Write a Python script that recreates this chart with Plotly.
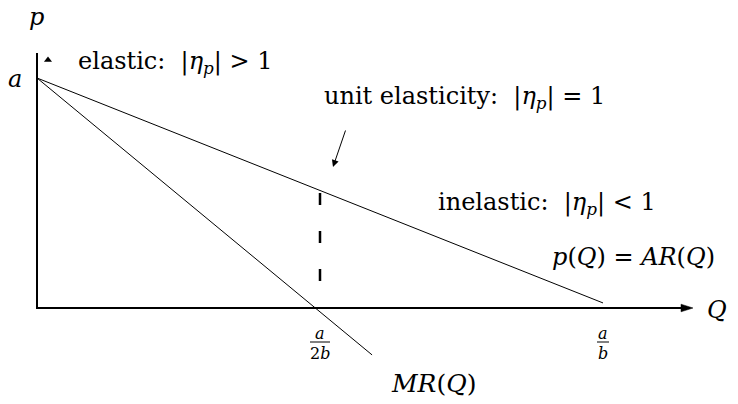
import plotly.graph_objects as go

# ---- data (a = 1, a/b = 1) ----
Q_AR = [0.0, 1.0]
p_AR = [1.0, 0.022]
Q_MR = [0.0, 0.592]
p_MR = [1.0, -0.204]
Q_unit = 0.5
p_dash = [0.5, 0.11]
x_ticks = [0.5, 1.0]
x_tick_num = ["<i>a</i>", "<i>a</i>"]
x_tick_den = ["2<i>b</i>", "<i>b</i>"]
x_tick_bar = [20, 12]

W, H = 738, 404
X0PX, Y0PX, SX, SY = 37, 308, 566, 230
xr = [(0 - X0PX) / SX, (W - X0PX) / SX]
yr = [(Y0PX - H) / SY, Y0PX / SY]


def px(x, y):
    return x / W, 1 - y / H


FONT = "DejaVu Serif"
NB = "\u00a0"
fig = go.Figure()

fig.add_trace(go.Scatter(x=Q_AR, y=p_AR, mode="lines",
                         line=dict(color="black", width=1), hoverinfo="skip"))
fig.add_trace(go.Scatter(x=Q_MR, y=p_MR, mode="lines",
                         line=dict(color="black", width=1), hoverinfo="skip"))
fig.add_trace(go.Scatter(x=[Q_unit, Q_unit], y=p_dash, mode="lines",
                         line=dict(color="black", width=2.5, dash="12px,26px"),
                         hoverinfo="skip"))
# small triangle near the p axis top
fig.add_trace(go.Scatter(x=[11 / SX], y=[(Y0PX - 60) / SY], mode="markers",
                         marker=dict(symbol="triangle-up", size=7, color="black"),
                         hoverinfo="skip"))

# axes
xend = (681 - X0PX) / SX
xtip = (693 - X0PX) / SX
fig.add_shape(type="line", x0=-1 / SX, y0=0, x1=xend, y1=0,
              line=dict(color="black", width=2))
fig.add_shape(type="path",
              path=f"M {xend} {3.8/SY} L {xtip} 0 L {xend} {-3.8/SY} Z",
              fillcolor="black", line=dict(color="black", width=0.5))
fig.add_shape(type="line", x0=0, y0=0, x1=0, y1=(Y0PX - 53) / SY,
              line=dict(color="black", width=2))

# arrow to unit elasticity point
fig.add_annotation(x=(333 - X0PX) / SX, y=(Y0PX - 167) / SY,
                   ax=(346 - X0PX) / SX, ay=(Y0PX - 129) / SY,
                   xref="x", yref="y", axref="x", ayref="y", text="",
                   showarrow=True, arrowhead=2, arrowsize=1.4, arrowwidth=1,
                   arrowcolor="black")


def label(text, x, y, size=24, xanchor="center"):
    xp, yp = px(x, y)
    fig.add_annotation(x=xp, y=yp, xref="paper", yref="paper", text=text,
                       showarrow=False, xanchor=xanchor, yanchor="middle",
                       font=dict(family=FONT, size=size, color="black"))


label("<i>p</i>", 36, 17)
label("<i>a</i>", 15, 79)
label(f"elastic:{NB} |<i>η</i><sub><i>p</i></sub>| > 1", 76, 62, xanchor="left")
label(f"unit elasticity:{NB} |<i>η</i><sub><i>p</i></sub>| = 1", 322, 97, xanchor="left")
label(f"inelastic:{NB} |<i>η</i><sub><i>p</i></sub>| < 1", 436, 203, xanchor="left")
label(f"<i>p</i>(<i>Q</i>){NB}={NB}<i>AR</i>(<i>Q</i>)", 550, 257, xanchor="left")
label("<i>Q</i>", 717, 310)
label("<i>MR</i>(<i>Q</i>)", 389, 383, xanchor="left", size=25)

for q, num, den, bar in zip(x_ticks, x_tick_num, x_tick_den, x_tick_bar):
    cx = X0PX + q * SX
    label(num, cx, 333, size=16)
    label(den, cx, 353, size=16)
    fig.add_shape(type="line", x0=q - bar / 2 / SX, x1=q + bar / 2 / SX,
                  y0=(Y0PX - 342) / SY, y1=(Y0PX - 342) / SY,
                  line=dict(color="black", width=1))

fig.update_layout(
    width=W, height=H, margin=dict(l=0, r=0, t=0, b=0),
    plot_bgcolor="white", paper_bgcolor="white", showlegend=False,
    xaxis=dict(range=xr, visible=False, fixedrange=True),
    yaxis=dict(range=yr, visible=False, fixedrange=True),
)
fig.write_html("out.html", config={"displayModeBar": False},
               post_script="document.body.style.margin='0px';")
